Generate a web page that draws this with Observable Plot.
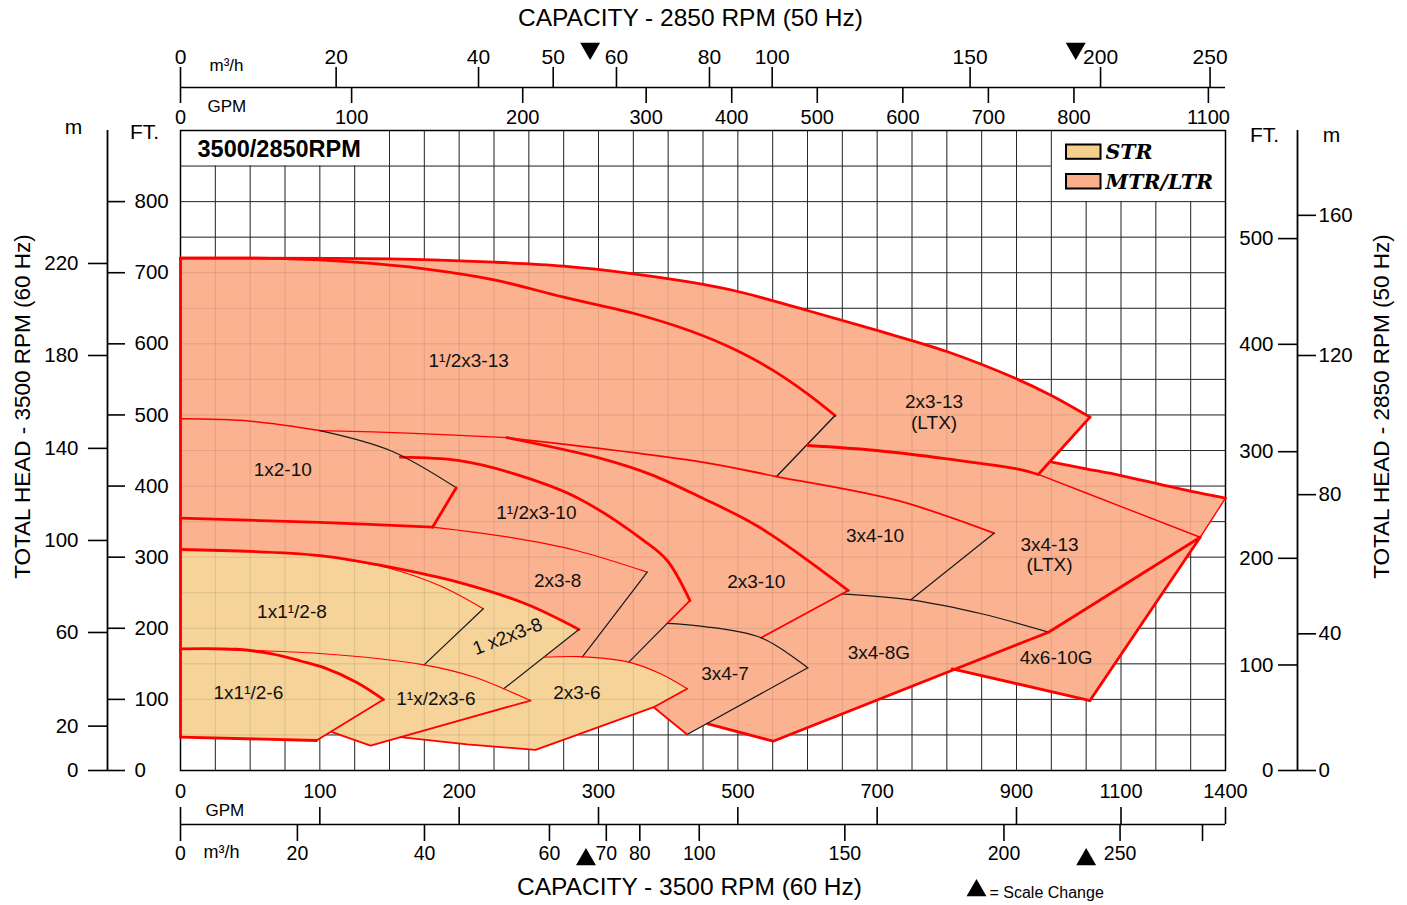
<!DOCTYPE html>
<html>
<head>
<meta charset="utf-8">
<script src="https://cdn.jsdelivr.net/npm/d3@7"></script>
<script src="https://cdn.jsdelivr.net/npm/@observablehq/plot@0.6"></script>
<style>
  html, body { margin: 0; padding: 0; background: #fff; overflow: hidden; }
  #chart svg { display: block; }
</style>
</head>
<body>
<div id="chart"></div>
<script>
// ---------------- DATA ----------------
// x unit: capacity in US GPM at 3500 RPM (60 Hz); y unit: head in feet at 3500 RPM.
const gpmBreaks = [0, 300, 1000, 1400];             // capacity values where the axis scale changes
const gridCellsAtBreaks = [0, 12, 26, 30];          // grid cells reached at those values
const gpmTicks60 = [0, 100, 200, 300, 500, 700, 900, 1100, 1400];
const m3Bottom   = [0, 20, 40, 60, 70, 80, 100, 150, 200, 250, 300];
const m3BottomAt = [0, 83.9, 175.1, 264.8, 311.2, 359.3, 444.6, 653.6, 882, 1097.3, 1334];
const gpmTop50   = [0, 100, 200, 300, 400, 500, 600, 700, 800, 1100];
const m3Top      = [0, 20, 40, 50, 60, 80, 100, 150, 200, 250];
const m3TopAt    = [0, 111.7, 213.9, 267.5, 325.8, 459.3, 549.3, 833.4, 1041.3, 1355.7];
const scaleChangeTop = [294, 985];
const scaleChangeBottom = [291, 1000];
const rpmRatio = 3500 / 2850;

const ftLeft   = [0, 100, 200, 300, 400, 500, 600, 700, 800];
const mLeft    = [0, 20, 60, 100, 140, 180, 220];
const mLeftAt  = [0, 62.4, 194.1, 323.5, 453, 583.6, 713];
const ftRight  = [0, 100, 200, 300, 400, 500];
const ftRightAt= [0, 148.4, 298.4, 448.3, 599.3, 748];
const mRight   = [0, 40, 80, 120, 160];
const mRightAt = [0, 192.2, 387.9, 583.6, 780.7];

// grid
const gridGpm = [...d3.range(0, 300, 25), ...d3.range(300, 1000, 50), ...d3.range(1000, 1401, 100)];
const gridFt  = d3.range(0, 901, 50);

// ---- region boundary curves [GPM, ft] ----
const top2x3_13   = [[0,720.4],[150,719.5],[225,714.8],[275,709.2],[350,698.5],[432,686.7],[500,673.6],[600,646.9],[700,618.8],[800,589.2],[900,550.8],[950,527.4],[1011,496.9]];
const top15x3_13  = [[0,720.4],[75,719.8],[125,714.8],[175,705.5],[225,690],[275,665.6],[350,643],[432,618],[500,590],[550,563],[600,529.7],[639.5,499.2]];
const end15x3_13  = [[639.5,499.2],[555.6,413.4]];
const end2x3_13   = [[1011,496.9],[931.3,416.3]];
const bot2x3_13   = [[600.1,457],[698.9,450],[800.2,438.3],[900.4,424.2],[931.3,416.3]];
const top4x6_10   = [[951,433.6],[1000,424.3],[1100,414.8],[1200,403.8],[1299,392.8],[1400,383]];
const edge4x6_10  = [[1400,383],[1327.3,328]];
const end4x6_10   = [[1327.3,328],[1011,98.4]];
const bot4x6_10   = [[1011,98.4],[807.7,143]];
const top3x4_13   = [[931.3,416.3],[1000,390.2],[1327.3,328]];
const end3x4_13   = [[1327.3,328],[1000,227.5],[946,194.5]];
const top3x4_8    = [[649.5,248.5],[748.4,240],[849.7,220.4],[946,194.5]];
const bot3x4_8    = [[946,194.5],[550.6,41.2],[457,65.6]];
const top3x4_10   = [[100,478],[163,474.5],[234.3,468],[440,435],[555.6,413.4],[728.6,379.7],[867.8,333.7]];
const end3x4_10   = [[867.8,333.7],[748.4,240]];
const top2x3_10   = [[234.3,468],[307,438],[374.6,416.5],[446.5,384.3],[531,342],[658.5,253.1]];
const end2x3_10   = [[658.5,253.1],[533.4,186.6]];
const top3x4_7    = [[398.6,207],[446.4,203],[533.4,186.6],[600.5,144.4]];
const bot3x4_7    = [[600.5,144.4],[427.2,50.6]];
const edge3x4_7   = [[427.2,50.6],[379.2,89]];
const top15x3_10  = [[157.8,440.6],[199.1,436],[235.5,419.5],[284,384.3],[365,323.4],[398.6,295.3],[431.2,239]];
const end15x3_10  = [[431.2,239],[398.6,207],[343.5,152.3]];
const top1x2_10   = [[0,494.5],[50,491.3],[100,478],[150.5,450],[197.9,397.5]];
const end1x2_10   = [[197.9,397.5],[180.9,342.2]];
const top2x3_8    = [[0,354.9],[100,348.8],[180.9,342.2],[235.5,328.1],[284,309.4],[369.9,278.9]];
const end2x3_8    = [[369.9,278.9],[300,189.3],[288.3,159.4]];
const top15x23_8  = [[0,310.8],[100,302.3],[150.5,285.9],[199.1,264.8],[247.6,234.4],[285.9,198.3]];
const end15x23_8  = [[285.9,198.3],[232,114.9]];
const top1x15_8   = [[0,310.8],[100,302.3],[150.5,284],[187,259],[217.3,227.4]];
const end1x15_8   = [[217.3,227.4],[174.8,148.6]];
const top15x23_6  = [[0,171.1],[100,164.5],[174.8,148.6],[211.2,131.2],[232,114.9],[251.2,98.4]];
const bot15x23_6  = [[251.2,98.4],[136.4,35],[108.9,53.9]];
const top1x15_6   = [[0,171.1],[40,170.5],[65.6,164.1],[86.1,154],[102,145.3],[126.2,124.2],[145.7,99.8]];
const end1x15_6   = [[145.7,99.8],[97.6,42.2]];
const bot1x15_6   = [[97.6,42.2],[0,46.9]];
const top2x3_6    = [[261,159.4],[287,160],[343.5,152.3],[389,136],[427.2,114.9]];
const bot2x3_6    = [[427.2,114.9],[379.2,89],[300,61],[254.8,29],[205.8,36.6],[157.9,46.9]];
const leftEdge    = [[0,46.9],[0,720.4]];

// ---- filled regions (built from the curves) ----
const mtrRegions = [
  {name: "2x3-13 (LTX)", pts: [...top2x3_13, ...end2x3_13, ...bot2x3_13.slice().reverse(), [300,500], [0,500]]},
  {name: "1 1/2x3-13", pts: [...top15x3_13, ...end15x3_13, [440,435], [234.3,468], [163,474.5], [100,478], [50,491.3], [0,494.5]]},
  {name: "3x4-13 (LTX)", pts: [[555.6,413.4], ...bot2x3_13, ...top4x6_10, ...edge4x6_10, ...end3x4_13, [849.7,220.4], [748.4,240], [867.8,333.7], [728.6,379.7]]},
  {name: "4x6-10G", pts: [[1327.3,328], [1011,98.4], [807.7,143], [946,194.5]]},
  {name: "3x4-8G", pts: [...top3x4_8, ...bot3x4_8, [533.4,186.6]]},
  {name: "3x4-10", pts: [...top3x4_10, [748.4,240], [649.5,248.5], [533.4,186.6], [398.6,207], [343.5,150], [287,157], [261,157], [180.9,342.2]]},
  {name: "2x3-10", pts: [...top2x3_10, [533.4,186.6], [398.6,207], [300,250]]},
  {name: "1 1/2x3-10", pts: [...top15x3_10, [398.6,207], [343.5,152.3], [287,157], [261,157], [180.9,342.2]]},
  {name: "3x4-7", pts: [...top3x4_7, [427.2,50.6], [379.2,89], [343.5,152.3]]},
  {name: "1x2-10", pts: [...top1x2_10, [180.9,342.2], [100,348.8], [0,354.9]]},
  {name: "2x3-8", pts: [...top2x3_8, [300,189.3], [288.3,157], [261,157], [240,190], [150,250], [0,300]]}
];
const strRegions = [
  {name: "1x1 1/2-8", pts: [...top1x15_8, [174.8,148.6], [100,164.5], [0,171.1]]},
  {name: "1 1/2x2x3-8", pts: [...top15x23_8, [232,114.9], [211.2,131.2], [174.8,148.6], [100,164.5], [0,171.1]]},
  {name: "1x1 1/2-6", pts: [...top1x15_6, [97.6,42.2], [0,46.9]]},
  {name: "1 1/2x2x3-6", pts: [...top15x23_6, [136.4,35], [108.9,53.9], [60,120]]},
  {name: "2x3-6", pts: [...top2x3_6, [379.2,89], [300,61], [254.8,29], [205.8,36.6], [157.9,46.9], [232,114.9]]}
];

const regionLabels = [
  {t: "1\u00B9/2x3-13", x: 206.8, y: 576},
  {t: "2x3-13\n(LTX)", x: 781.7, y: 503.9},
  {t: "1x2-10", x: 73.4, y: 423.3},
  {t: "1\u00B9/2x3-10", x: 255.4, y: 363.3},
  {t: "3x4-10", x: 697, y: 330.5},
  {t: "3x4-13\n(LTX)", x: 947.4, y: 303.8},
  {t: "2x3-8", x: 270.7, y: 267.2},
  {t: "2x3-10", x: 526.4, y: 266.2},
  {t: "1x1\u00B9/2-8", x: 80, y: 224},
  {t: "3x4-8G", x: 702.4, y: 166.4},
  {t: "4x6-10G", x: 957, y: 158.5},
  {t: "3x4-7", x: 481.5, y: 136},
  {t: "1x1\u00B9/2-6", x: 48.7, y: 110.1},
  {t: "1\u00B9x/2x3-6", x: 183.3, y: 100.8},
  {t: "2x3-6", x: 284.5, y: 109.7}
];
const tiltedLabels = [{t: "1 x2x3-8", x: 234.7, y: 188.4}];

// ---------------- LAYOUT / STYLE ----------------
const W = 1407, H = 905;
const ML = 180, MR = 182, MT = 130, MB = 135;
const FX1 = W - MR, FY1 = H - MB;
const FXMID = (ML + FX1) / 2;

// piecewise capacity axis: applied as the x scale's own transform
const capacityToCells = d3.scaleLinear().domain(gpmBreaks).range(gridCellsAtBreaks);

const MTR = "#fbb290", STR = "#f6d398";
const RED = "#ff0000", BLK = "#1a1a1a", GRID = "#2a2a2a";
const TH = 2.8, MD = 1.8, TN = 1.2;
const FONT = "'Liberation Sans', Arial, Helvetica, sans-serif";
const MID = {lineAnchor: "middle"};

const P = d => d[0], Q = d => d[1];
const marks = [];

// grid
const vTop = d => (d > 0 && d < 150) ? 850 : (d > 950 && d < 1400) ? 800 : 900;
const hEnd = d => d === 850 ? 950 : 1400;
marks.push(Plot.ruleX(gridGpm, {x: d => d, y1: 0, y2: vTop, stroke: GRID, strokeWidth: 1}));
marks.push(Plot.ruleY(gridFt, {y: d => d, x1: 0, x2: hEnd, stroke: GRID, strokeWidth: 1}));

// fills
for (const r of mtrRegions)
  marks.push(Plot.line(r.pts, {x: P, y: Q, fill: MTR, stroke: MTR, strokeWidth: 0.6, curve: "linear"}));
for (const r of strRegions)
  marks.push(Plot.line(r.pts, {x: P, y: Q, fill: STR, stroke: STR, strokeWidth: 0.6, curve: "linear"}));

// faint grid through the fills
marks.push(Plot.ruleX(gridGpm, {x: d => d, y1: 0, y2: vTop, stroke: GRID, strokeWidth: 1, strokeOpacity: 0.12}));
marks.push(Plot.ruleY(gridFt, {y: d => d, x1: 0, x2: hEnd, stroke: GRID, strokeWidth: 1, strokeOpacity: 0.12}));

marks.push(Plot.frame({stroke: "#000", strokeWidth: 1.5}));

// region outlines
const edges = [
  [top2x3_13, TH, RED, true], [top15x3_13, TH, RED, true], [end15x3_13, 1.4, BLK, false],
  [end2x3_13, TH, RED, false], [bot2x3_13, TH, RED, true], [top4x6_10, TH, RED, true],
  [edge4x6_10, 1.4, RED, false], [end4x6_10, TH, RED, false], [bot4x6_10, TH, RED, false],
  [top3x4_13, 1.4, RED, false], [end3x4_13, TH, RED, false], [top3x4_8, TN, BLK, true],
  [bot3x4_8, TH, RED, false], [top3x4_10.slice(0, 3), TN, RED, true], [top3x4_10.slice(2), MD, RED, true],
  [end3x4_10, TN, BLK, false], [top2x3_10, TH, RED, true], [end2x3_10, MD, RED, false],
  [top3x4_7, TN, BLK, true], [bot3x4_7, TN, BLK, false], [edge3x4_7, MD, RED, false],
  [top15x3_10, TH, RED, true], [end15x3_10.slice(0, 2), MD, RED, false], [end15x3_10.slice(1), TN, BLK, false],
  [top1x2_10.slice(0, 3), 1.5, RED, true], [top1x2_10.slice(2), TN, BLK, true], [end1x2_10, TH, RED, false],
  [top2x3_8.slice(0, 3), TH, RED, true], [top2x3_8.slice(2), TN, RED, true], [end2x3_8, TN, BLK, false],
  [top15x23_8, TH, RED, true], [end15x23_8, TN, BLK, false], [top1x15_8.slice(1), TN, RED, true],
  [end1x15_8, TN, BLK, false], [top15x23_6, TN, RED, true], [bot15x23_6, MD, RED, false],
  [top1x15_6, TH, RED, true], [end1x15_6, MD, RED, false], [bot1x15_6, TH, RED, false],
  [top2x3_6, TN, RED, true], [bot2x3_6, MD, RED, false], [leftEdge, TH, RED, false]
];
for (const [pts, w, c, smooth] of edges)
  marks.push(Plot.line(pts, {x: P, y: Q, stroke: c, strokeWidth: w, curve: smooth ? "catmull-rom" : "linear"}));

// region labels
marks.push(Plot.text(regionLabels, {x: "x", y: "y", text: "t", fontSize: 19, lineHeight: 1.08, fill: "#111"}));
marks.push(Plot.text(tiltedLabels, {x: "x", y: "y", text: "t", fontSize: 19, rotate: -21, fill: "#111"}));

// title box and legend
marks.push(Plot.text(["3500/2850RPM"], {...MID, frameAnchor: "top-left", dx: 197 - ML, dy: 149 - MT, textAnchor: "start", fontWeight: "bold", fontSize: 23.5}));
marks.push(Plot.frame({fill: "#f5cf8e", stroke: "#000", strokeWidth: 2, insetLeft: 1065.5 - ML, insetRight: FX1 - 1100, insetTop: 144 - MT, insetBottom: FY1 - 158.3}));
marks.push(Plot.frame({fill: "#fbae8a", stroke: "#000", strokeWidth: 2, insetLeft: 1065.5 - ML, insetRight: FX1 - 1100, insetTop: 173.5 - MT, insetBottom: FY1 - 188}));
const legFont = {...MID, frameAnchor: "top-left", textAnchor: "start", fontFamily: "'DejaVu Serif', serif", fontWeight: "bold", fontStyle: "italic", fontSize: 20.5};
marks.push(Plot.text(["STR"], {...legFont, dx: 1105 - ML, dy: 151.5 - MT}));
marks.push(Plot.text(["MTR/LTR"], {...legFont, dx: 1105 - ML, dy: 181.5 - MT}));

// ---- top capacity axes (2850 RPM) ----
marks.push(Plot.ruleY([0], {x1: 0, x2: 1400, dy: 87 - FY1, stroke: "#000", strokeWidth: 1.6}));
marks.push(Plot.ruleX(m3TopAt, {x: d => d, insetTop: 67 - MT, insetBottom: FY1 - 87, stroke: "#000", strokeWidth: 1.6}));
marks.push(Plot.ruleX(gpmTop50, {x: d => d * rpmRatio, insetTop: 87 - MT, insetBottom: FY1 - 103, stroke: "#000", strokeWidth: 1.6}));
marks.push(Plot.text(m3Top, {...MID, x: (d, i) => m3TopAt[i], text: d => String(d), frameAnchor: "top", dy: 57 - MT, fontSize: 21}));
marks.push(Plot.text(gpmTop50, {...MID, x: d => d * rpmRatio, text: d => String(d), frameAnchor: "top", dy: 117 - MT, fontSize: 20}));
marks.push(Plot.text(["m\u00B3/h"], {...MID, frameAnchor: "top-left", textAnchor: "start", dx: 209 - ML, dy: 65 - MT, fontSize: 17}));
marks.push(Plot.text(["GPM"], {...MID, frameAnchor: "top-left", textAnchor: "start", dx: 207 - ML, dy: 106 - MT, fontSize: 17}));
marks.push(Plot.text(["CAPACITY - 2850 RPM (50 Hz)"], {...MID, frameAnchor: "top", textAnchor: "middle", dx: 690 - FXMID, dy: 18 - MT, fontSize: 24.5}));
marks.push(Plot.dot(scaleChangeTop, {x: d => d, frameAnchor: "top", dy: 48 - MT, symbol: "triangle", r: 7.4, rotate: 180, fill: "#000", stroke: "none"}));

// ---- bottom capacity axes (3500 RPM) ----
marks.push(Plot.ruleY([0], {x1: 0, x2: 1400, dy: 824 - FY1, stroke: "#000", strokeWidth: 1.6}));
marks.push(Plot.ruleX(gpmTicks60, {x: d => d, insetTop: 807 - MT, insetBottom: FY1 - 824, stroke: "#000", strokeWidth: 1.6}));
marks.push(Plot.ruleX(m3BottomAt, {x: d => d, insetTop: 824 - MT, insetBottom: FY1 - 841, stroke: "#000", strokeWidth: 1.6}));
marks.push(Plot.text(gpmTicks60, {...MID, x: d => d, text: d => String(d), frameAnchor: "bottom", dy: 791 - FY1, fontSize: 20}));
marks.push(Plot.text(m3Bottom.slice(0, 10), {...MID, x: (d, i) => m3BottomAt[i], text: d => String(d), frameAnchor: "bottom", dy: 853 - FY1, fontSize: 19.5}));
marks.push(Plot.text(["GPM"], {...MID, frameAnchor: "bottom-left", textAnchor: "start", dx: 205 - ML, dy: 810 - FY1, fontSize: 17}));
marks.push(Plot.text(["m\u00B3/h"], {...MID, frameAnchor: "bottom-left", textAnchor: "start", dx: 203 - ML, dy: 852 - FY1, fontSize: 18}));
marks.push(Plot.text(["CAPACITY - 3500 RPM (60 Hz)"], {...MID, frameAnchor: "bottom", textAnchor: "middle", dx: 689 - FXMID, dy: 887 - FY1, fontSize: 24.5}));
marks.push(Plot.dot(scaleChangeBottom, {x: d => d, frameAnchor: "bottom", dy: 859 - FY1, symbol: "triangle", r: 7.4, fill: "#000", stroke: "none"}));
marks.push(Plot.dot([0], {frameAnchor: "bottom-left", dx: 976 - ML, dy: 890 - FY1, symbol: "triangle", r: 7.4, fill: "#000", stroke: "none"}));
marks.push(Plot.text(["= Scale Change"], {...MID, frameAnchor: "bottom-left", textAnchor: "start", dx: 989 - ML, dy: 892 - FY1, fontSize: 16}));

// ---- left head axes (3500 RPM) ----
marks.push(Plot.ruleX([0], {x: d => d, dx: 107 - ML, insetBottom: -1, stroke: "#000", strokeWidth: 1.8}));
marks.push(Plot.ruleY(ftLeft, {y: d => d, insetLeft: 107 - ML, insetRight: FX1 - 125, stroke: "#000", strokeWidth: 1.6}));
marks.push(Plot.ruleY(mLeftAt, {y: d => d, insetLeft: 88 - ML, insetRight: FX1 - 107, stroke: "#000", strokeWidth: 1.6}));
marks.push(Plot.text(ftLeft, {...MID, y: d => d, text: d => String(d), frameAnchor: "left", dx: 134 - ML, textAnchor: "start", fontSize: 20.5}));
marks.push(Plot.text(mLeft, {...MID, y: (d, i) => mLeftAt[i], text: d => String(d), frameAnchor: "left", dx: 78 - ML, textAnchor: "end", fontSize: 20.5}));
marks.push(Plot.text(["m"], {...MID, frameAnchor: "top-left", textAnchor: "middle", dx: 73 - ML, dy: 127 - MT, fontSize: 21}));
marks.push(Plot.text(["FT."], {...MID, frameAnchor: "top-left", textAnchor: "middle", dx: 144 - ML, dy: 132 - MT, fontSize: 21}));
marks.push(Plot.text(["TOTAL HEAD - 3500 RPM (60 Hz)"], {...MID, frameAnchor: "left", textAnchor: "middle", dx: 22 - ML, dy: 406 - (MT + FY1) / 2, rotate: -90, fontSize: 22.5}));

// ---- right head axes (2850 RPM) ----
marks.push(Plot.ruleX([1400], {x: d => d, dx: 1297 - FX1, insetBottom: -1, stroke: "#000", strokeWidth: 1.8}));
marks.push(Plot.ruleY(ftRightAt, {y: d => d, insetLeft: 1278 - ML, insetRight: FX1 - 1297, stroke: "#000", strokeWidth: 1.6}));
marks.push(Plot.ruleY(mRightAt, {y: d => d, insetLeft: 1297 - ML, insetRight: FX1 - 1316, stroke: "#000", strokeWidth: 1.6}));
marks.push(Plot.text(ftRight, {...MID, y: (d, i) => ftRightAt[i], text: d => String(d), frameAnchor: "right", dx: 1273 - FX1, textAnchor: "end", fontSize: 20.5}));
marks.push(Plot.text(mRight, {...MID, y: (d, i) => mRightAt[i], text: d => String(d), frameAnchor: "right", dx: 1318 - FX1, textAnchor: "start", fontSize: 20.5}));
marks.push(Plot.text(["FT."], {...MID, frameAnchor: "top-left", textAnchor: "middle", dx: 1264 - ML, dy: 135 - MT, fontSize: 21}));
marks.push(Plot.text(["m"], {...MID, frameAnchor: "top-left", textAnchor: "middle", dx: 1331 - ML, dy: 135 - MT, fontSize: 21}));
marks.push(Plot.text(["TOTAL HEAD - 2850 RPM (50 Hz)"], {...MID, frameAnchor: "right", textAnchor: "middle", dx: 1381 - FX1, dy: 406 - (MT + FY1) / 2, rotate: -90, fontSize: 22.5}));

const chart = Plot.plot({
  width: W, height: H,
  marginLeft: ML, marginRight: MR, marginTop: MT, marginBottom: MB,
  x: {type: "linear", transform: capacityToCells, axis: null},
  y: {domain: [0, 900], axis: null},
  style: {fontFamily: FONT, background: "#fff", color: "#000", overflow: "visible"},
  marks
});
document.getElementById("chart").appendChild(chart);
</script>
</body>
</html>
